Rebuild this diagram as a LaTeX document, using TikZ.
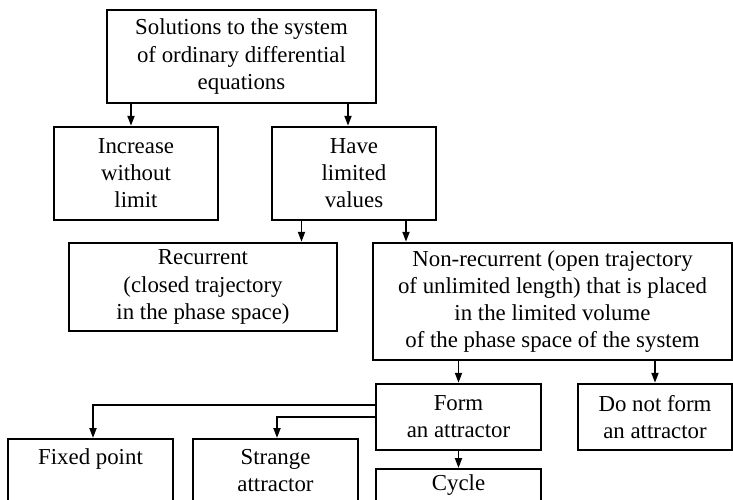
\documentclass[tikz,border=0pt]{standalone}
\usepackage{fontspec}
\setmainfont{Liberation Serif}
\usetikzlibrary{arrows.meta}

\begin{document}
\begin{tikzpicture}[
  font=\fontsize{13}{15.4}\selectfont,
  >={Triangle[length=2mm,width=1.4mm]},
  box/.style={draw, line width=1.4pt, align=center, inner sep=2pt},
  boxo/.style={box, anchor=north, minimum width=3.30cm, text height=0.31cm,
               text depth=1.6cm, inner ysep=0.19cm},
  ar/.style={->, line width=1.1pt}
]
\useasboundingbox (0,0) rectangle (14.66,-9.98);
\clip (0,0) rectangle (14.66,-9.98);

% ==== top levels
\node[box, minimum width=5.38cm, minimum height=1.86cm] (sol) at (4.83,-1.13)
     {Solutions to the system\\of ordinary differential\\equations};
\node[box, minimum width=3.28cm, minimum height=1.86cm] (inc) at (2.72,-3.47)
     {Increase\\without\\limit};
\node[box, minimum width=3.28cm, minimum height=1.86cm] (lim) at (7.08,-3.47)
     {Have\\limited\\values};

% ==== bounded solutions
\node[box, minimum width=5.36cm, minimum height=1.76cm] (rec) at (4.06,-5.74)
     {Recurrent\\(closed trajectory\\in the phase space)};
\node[box, minimum width=7.18cm, minimum height=2.34cm] (nrec) at (11.05,-6.03)
     {Non-recurrent (open trajectory\\of unlimited length) that is placed\\in the limited volume\\of the phase space of the system};

% ==== attractor or not
\node[box, minimum width=3.30cm, minimum height=1.32cm] (att) at (9.17,-8.34)
     {Form\\an attractor};
\node[box, minimum width=3.08cm, minimum height=1.32cm] (natt) at (13.10,-8.34)
     {Do not form\\an attractor};

% ==== kinds of attractor (cut by the page edge)
\node[boxo] (fix) at (1.81,-8.76) {Fixed point};
\node[boxo, text height=0.85cm, text depth=1.06cm] (str) at (5.51,-8.76) {Strange\\attractor};
\node[boxo, inner ysep=0.11cm] (cyc) at (9.17,-9.36) {Cycle};

% ==== connectors
\draw[ar] ([xshift=-0.10cm]inc.north |- sol.south) -- ([xshift=-0.10cm]inc.north);
\draw[ar] ([xshift=-0.12cm]lim.north |- sol.south) -- ([xshift=-0.12cm]lim.north);
\draw[ar] ([xshift=-1.05cm]lim.south) -- ([xshift=-1.05cm]lim.south |- rec.north);
\draw[ar] ([xshift=1.04cm]lim.south) -- ([xshift=1.04cm]lim.south |- nrec.north);
\draw[ar] (att.north |- nrec.south) -- (att.north);
\draw[ar] (natt.north |- nrec.south) -- (natt.north);
\draw[ar] ([yshift=0.24cm]att.west) -| ([xshift=0.05cm]fix.north);
\draw[ar] (att.west) -| ([xshift=0.03cm]str.north);
\draw[ar] (att.south) -- (cyc.north);

\end{tikzpicture}
\end{document}
